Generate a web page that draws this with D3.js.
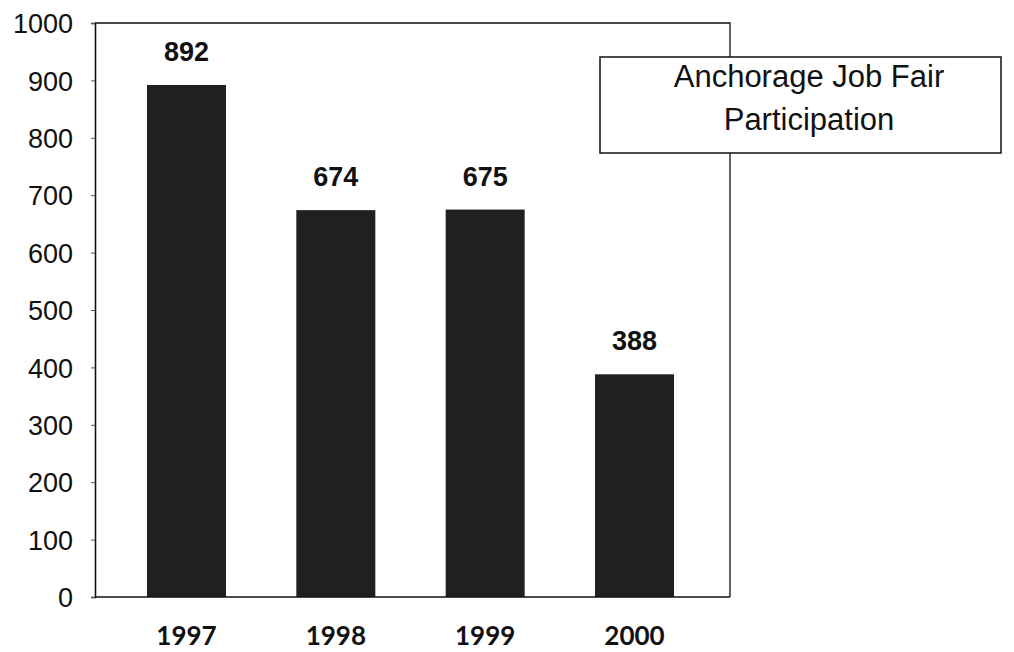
<!DOCTYPE html>
<html><head><meta charset="utf-8">
<script src="https://cdn.jsdelivr.net/npm/d3@7"></script>
<style>body{margin:0;background:#fff}svg{display:block}</style>
</head><body>
<svg id="c" width="1014" height="652"></svg>
<script>
const years = ["1997","1998","1999","2000"];
const participants = [892, 674, 675, 388];
const yTicks = [0,100,200,300,400,500,600,700,800,900,1000];
const titleLines = ["Anchorage Job Fair","Participation"];

(function(){
const svg = d3.select("#c");
const pL = 95, pR = 730, pT = 23, pB = 597;
const x = d3.scaleBand().domain(years).range([pL, 726]).paddingInner(0.471).paddingOuter(0.348);
const y = d3.scaleLinear().domain([0,1000]).range([pB, pT]);

// frame
svg.append("path").attr("d", `M${pL},${pT}H${pR}V${pB}`).attr("fill","none").attr("stroke","#111").attr("stroke-width",1.3);

// bars
svg.selectAll("rect.bar").data(years).join("rect").attr("class","bar")
  .attr("x", d=>x(d)).attr("width", x.bandwidth())
  .attr("y", (d,i)=>y(participants[i])).attr("height",(d,i)=>y(0)-y(participants[i]))
  .attr("fill","#202020");

// y axis
const ya = svg.append("g").attr("transform",`translate(${pL},0)`)
  .call(d3.axisLeft(y).tickValues(yTicks).tickSize(4).tickPadding(18).tickFormat(d3.format("d")));
ya.select(".domain").attr("stroke","#111").attr("stroke-width",1.6);
ya.selectAll(".tick line").attr("stroke","#555");
ya.selectAll(".tick text").attr("font-family","Liberation Sans, Arial, sans-serif").attr("font-size",27).attr("fill","#111").attr("dy","0.36em");

// baseline
svg.append("line").attr("x1",pL).attr("x2",pR).attr("y1",y(0)).attr("y2",y(0)).attr("stroke","#111").attr("stroke-width",1.6);

// x labels
svg.selectAll("text.xl").data(years).join("text").attr("class","xl")
  .attr("x", d=>x(d)+x.bandwidth()/2).attr("y", 645)
  .attr("text-anchor","middle").attr("font-family","Lato, DejaVu Sans, sans-serif").attr("font-weight","bold")
  .attr("font-size",26).attr("fill","#111").text(d=>d);

// value labels
svg.selectAll("text.vl").data(years).join("text").attr("class","vl")
  .attr("x", d=>x(d)+x.bandwidth()/2).attr("y", (d,i)=>y(participants[i])-24)
  .attr("text-anchor","middle").attr("font-family","Liberation Sans, Arial, sans-serif").attr("font-weight","bold")
  .attr("font-size",27).attr("fill","#111").text((d,i)=>participants[i]);

// title box
svg.append("rect").attr("x",600).attr("y",57).attr("width",401).attr("height",96).attr("fill","#fff").attr("stroke","#111").attr("stroke-width",1.5);
svg.selectAll("text.tt").data(titleLines).join("text").attr("class","tt")
  .attr("x",809).attr("y",(d,i)=>87+i*43).attr("text-anchor","middle")
  .attr("font-family","Liberation Sans, Arial, sans-serif").attr("font-size",31).attr("fill","#111").text(d=>d);
})();
</script>
</body></html>
